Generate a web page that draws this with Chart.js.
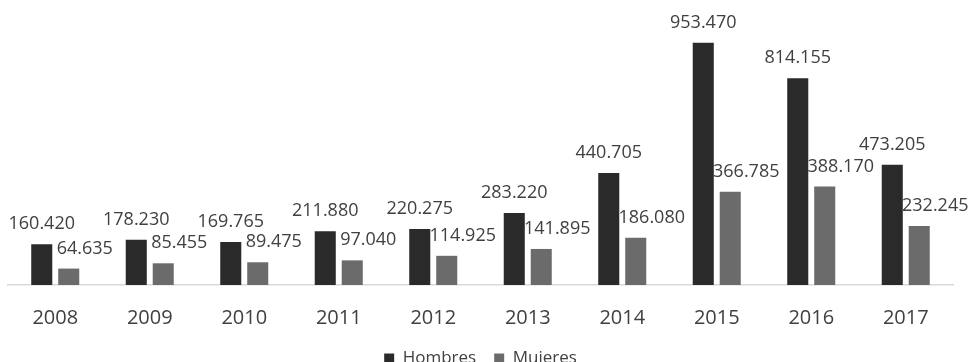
<!DOCTYPE html>
<html>
<head>
<meta charset="utf-8">
<script src="https://cdn.jsdelivr.net/npm/chart.js@4.4.1/dist/chart.umd.min.js"></script>
<style>
  html, body { margin: 0; padding: 0; background: #fff; }
  #wrap { width: 969px; height: 362px; }
</style>
</head>
<body>
<div id="wrap"><canvas id="chartSexo"></canvas></div>
<script>
// ── DATOS ──────────────────────────────────────
const years   = ['2008','2009','2010','2011','2012','2013','2014','2015','2016','2017'];
const hombres = [160420, 178230, 169765, 211880, 220275, 283220, 440705, 953470, 814155, 473205];
const mujeres = [64635, 85455, 89475, 97040, 114925, 141895, 186080, 366785, 388170, 232245];

const FONT = '"Open Sans", "Noto Sans", sans-serif';
const TXT  = '#404040';

function fNum(v) {
  return String(v).replace(/\B(?=(\d{3})+(?!\d))/g, '.');
}

// etiquetas encima de cada barra
const barLabels = {
  id: 'barLabels',
  afterDatasetsDraw(chart) {
    const { ctx } = chart;
    ctx.save();
    ctx.font = '18px ' + FONT;
    ctx.fillStyle = TXT;
    ctx.textAlign = 'center';
    ctx.textBaseline = 'middle';
    chart.data.datasets.forEach((ds, di) => {
      const dx = di === 1 ? 16 : 0;   // Mujeres van algo corridas a la derecha
      chart.getDatasetMeta(di).data.forEach((bar, i) => {
        ctx.fillText(fNum(ds.data[i]), bar.x + dx, bar.y - 20);
      });
    });
    ctx.restore();
  }
};

new Chart(document.getElementById('chartSexo'), {
  type: 'bar',
  data: {
    labels: years,
    datasets: [
      { label: 'Hombres', data: hombres, backgroundColor: '#2a2a2a', categoryPercentage: 0.571, barPercentage: 0.78 },
      { label: 'Mujeres', data: mujeres, backgroundColor: '#6b6b6b', categoryPercentage: 0.571, barPercentage: 0.78 },
    ]
  },
  options: {
    responsive: true,
    maintainAspectRatio: false,
    animation: false,
    layout: { padding: { left: 8, right: 16, top: 31, bottom: -15 } },
    scales: {
      x: {
        grid: { display: false },
        border: { display: true, color: '#d9d9d9', width: 1.5 },
        ticks: { color: TXT, font: { family: FONT, size: 20 }, padding: 13 },
        afterFit: s => { s.height = 47; }
      },
      y: { display: false, min: 0, max: 1000000 }
    },
    plugins: {
      legend: {
        position: 'bottom',
        labels: { color: TXT, font: { family: FONT, size: 17 }, boxWidth: 10, boxHeight: 10, padding: 18 }
      },
      tooltip: { enabled: false }
    }
  },
  plugins: [barLabels]
});
</script>
</body>
</html>
